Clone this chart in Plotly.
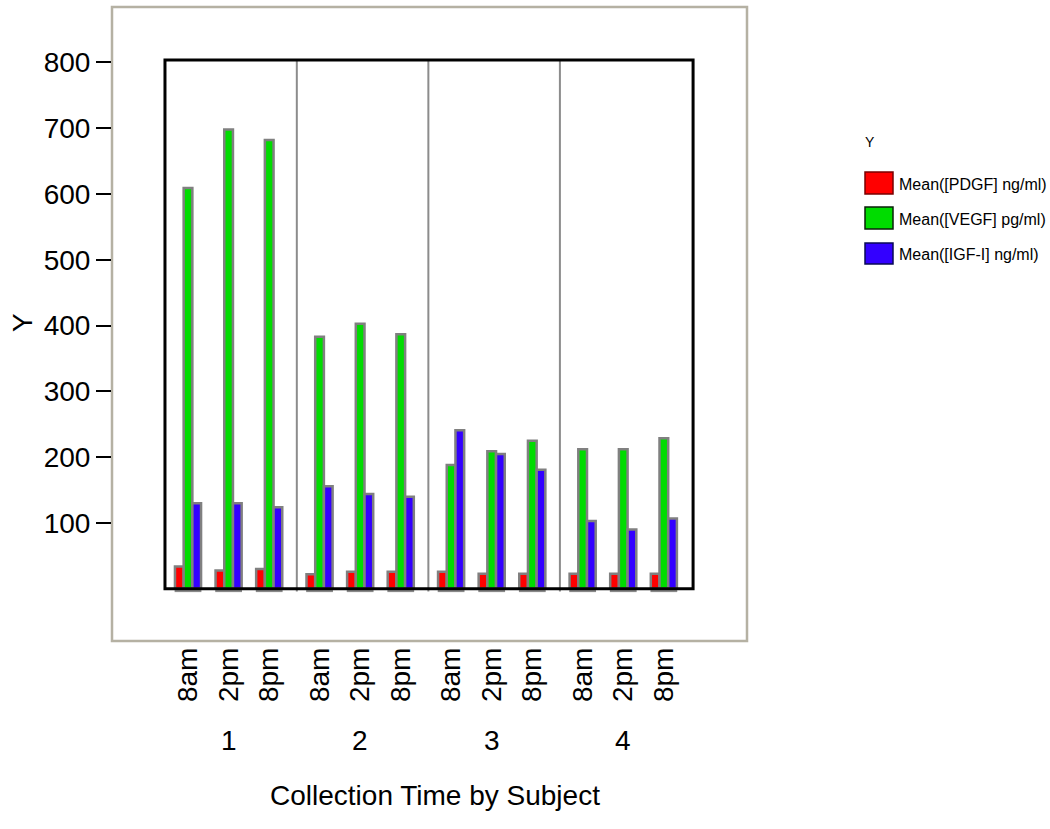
import plotly.graph_objects as go

# ---- data ----
subjects = ["1", "2", "3", "4"]
times = ["8am", "2pm", "8pm"]
pdgf = [34, 28, 30, 22, 26, 26, 26, 23, 23, 23, 23, 23]
vegf = [609, 698, 682, 383, 403, 387, 188, 209, 225, 212, 212, 229]
igf = [130, 130, 124, 156, 144, 140, 241, 205, 181, 103, 90, 107]
series_names = ["Mean([PDGF] ng/ml)", "Mean([VEGF] pg/ml)", "Mean([IGF-I] ng/ml)"]
series_colors = ["#ff0000", "#00dc00", "#3300ff"]
swatch_borders = ["#7a0000", "#0a200a", "#0a0a55"]
y_ticks = [100, 200, 300, 400, 500, 600, 700, 800]

GROUP_PERIOD = 3.24
pos = [g * GROUP_PERIOD + t for g in range(len(subjects)) for t in range(len(times))]
tick_text = [t for _ in subjects for t in times]

FONT = "Liberation Sans, Arial, Helvetica, sans-serif"

# plot area in pixels
L, R, T, B = 112, 747, 7, 641
W, H = 1050, 829
PW, PH = R - L, B - T


def px_x(px):
    return (px - L) / PW


def px_y(py):
    return (B - py) / PH


fig = go.Figure()
for name, vals, col in zip(series_names, [pdgf, vegf, igf], series_colors):
    fig.add_trace(go.Bar(
        x=pos, y=vals, name=name, showlegend=False,
        marker=dict(color=col, line=dict(color="#808080", width=2.5)),
    ))

shapes = []
# outer frame
shapes.append(dict(type="rect", xref="paper", yref="paper", x0=0, x1=1, y0=0, y1=1,
                   line=dict(color="#b5b1a3", width=2.5), layer="below"))
# shadow under each cluster
for p in pos:
    shapes.append(dict(type="rect", xref="x", yref="y", x0=p - 0.33, x1=p + 0.33, y0=-5, y1=0,
                       fillcolor="#8a8a8a", line=dict(width=0), layer="below"))
# group separators
for g in range(1, len(subjects)):
    xs = (pos[g * 3 - 1] + pos[g * 3]) / 2 + 0.06
    shapes.append(dict(type="line", xref="x", yref="y", x0=xs, x1=xs, y0=-4, y1=803.6,
                       line=dict(color="#8c8c8c", width=2)))
# black plot box
shapes.append(dict(type="rect", xref="x", yref="y", x0=pos[0] - 0.567, x1=pos[-1] + 0.72,
                   y0=0, y1=803.6, line=dict(color="black", width=3)))

# manual legend swatches
sw_rows = [(172, 194), (207, 229), (243, 264)]
annotations = []
for (y0, y1), col, bcol, name in zip(sw_rows, series_colors, swatch_borders, series_names):
    shapes.append(dict(type="rect", xref="paper", yref="paper",
                       x0=px_x(865), x1=px_x(893), y0=px_y(y1), y1=px_y(y0),
                       fillcolor=col, line=dict(color=bcol, width=1.5)))
    annotations.append(dict(xref="paper", yref="paper", x=px_x(897), y=px_y((y0 + y1) / 2 + 1),
                            xanchor="left", yanchor="middle", showarrow=False, text=name,
                            font=dict(family=FONT, size=16, color="black")))
annotations.append(dict(xref="paper", yref="paper", x=px_x(870), y=px_y(142),
                        xanchor="center", yanchor="middle", showarrow=False, text="Y",
                        font=dict(family=FONT, size=14, color="black")))

# group labels
for g, s in enumerate(subjects):
    annotations.append(dict(xref="x", yref="paper", x=pos[g * 3 + 1], y=px_y(740),
                            xanchor="center", yanchor="middle", showarrow=False, text=s,
                            font=dict(family=FONT, size=28, color="black")))
# axis titles
annotations.append(dict(xref="paper", yref="paper", x=px_x(434.5), y=px_y(795),
                        xanchor="center", yanchor="middle", showarrow=False,
                        text="Collection Time by Subject",
                        font=dict(family=FONT, size=28, color="black")))
annotations.append(dict(xref="paper", yref="paper", x=px_x(22), y=px_y(323),
                        xanchor="center", yanchor="middle", showarrow=False, text="Y",
                        textangle=-90, font=dict(family=FONT, size=28, color="black")))

fig.update_layout(
    width=W, height=H,
    margin=dict(l=L, r=W - R, t=T, b=H - B, pad=0),
    paper_bgcolor="white", plot_bgcolor="white",
    barmode="group", bargap=0.357, bargroupgap=0,
    shapes=shapes, annotations=annotations,
    showlegend=False,
    font=dict(family=FONT, color="black"),
)
fig.update_xaxes(
    range=[-1.872, 13.768], tickvals=pos, ticktext=tick_text, tickangle=-90,
    tickfont=dict(family=FONT, size=28, color="black"),
    showgrid=False, zeroline=False, showline=False, ticks="",
)
fig.update_yaxes(
    range=[-79.3, 884.2], tickvals=y_ticks, ticks="outside", ticklen=15, tickwidth=2,
    tickcolor="black", tickfont=dict(family=FONT, size=28, color="black"),
    showgrid=False, zeroline=False, showline=False,
)

fig.write_html(
    "out.html",
    config={"displayModeBar": False},
    post_script="document.body.style.margin='0';document.body.style.overflow='hidden';",
)
